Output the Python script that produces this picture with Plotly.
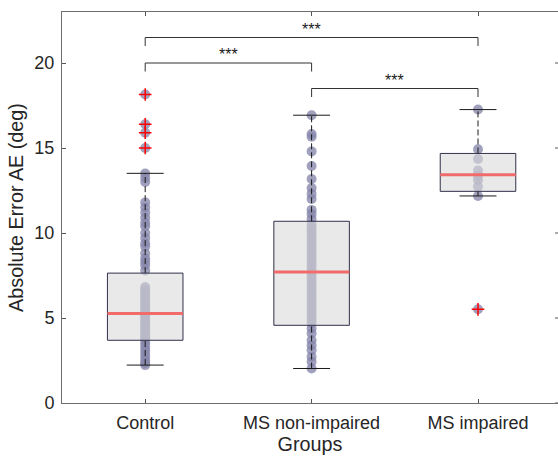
import plotly.graph_objects as go

# ---------------- data ----------------
groups = ["Control", "MS non-impaired", "MS impaired"]
group_pos = [1, 2, 3]

control_vals = [13.5, 13.25, 13.0, 11.8, 11.5, 11.2, 10.9, 10.6, 10.4, 10.0, 9.7, 9.4,
                9.2, 8.8, 8.5, 8.3, 8.1, 7.8,
                6.82, 6.7, 6.55, 6.4, 6.3, 6.15, 6.0, 5.9, 5.75, 5.6, 5.5, 5.35, 5.25,
                5.2, 5.1, 4.95, 4.8, 4.7, 4.55, 4.4, 4.3, 4.15, 4.0, 3.9, 3.8, 3.7,
                3.5, 3.3, 3.1, 2.9, 2.7, 2.5, 2.35, 2.23]
control_outliers = [18.15, 16.4, 15.9, 15.0]

msni_vals = [16.93, 15.82, 15.66, 14.8, 13.94, 13.18, 12.65, 12.3, 12.0, 11.36, 11.12,
             10.83, 10.5, 10.3, 10.1, 9.9, 9.7, 9.5, 9.3, 9.1, 8.9, 8.7, 8.5, 8.3, 8.1,
             7.9, 7.7, 7.5, 7.3, 7.1, 6.9, 6.7, 6.5, 6.3, 6.1, 5.9, 5.7, 5.5, 5.3, 5.1,
             4.9, 4.7, 4.38, 4.09, 3.69, 3.4, 3.11, 2.72, 2.42, 2.03]
msni_outliers = []

msi_vals = [17.26, 14.93, 14.35, 13.67, 13.37, 13.12, 12.73, 12.18]
msi_outliers = [5.51]

# box statistics per group
q1 = [3.69, 4.57, 12.45]
median = [5.26, 7.70, 13.43]
q3 = [7.64, 10.69, 14.68]
whisk_lo = [2.23, 2.03, 12.18]
whisk_hi = [13.51, 16.93, 17.26]

# significance brackets: (from group, to group, height, label)
bracket_from = [1, 1, 2]
bracket_to = [3, 2, 3]
bracket_y = [21.5, 20.0, 18.5]
bracket_label = ["***", "***", "***"]

y_ticks = [0, 5, 10, 15, 20]

# ---------------- figure ----------------
FONT = "Liberation Sans, Arial, Helvetica, sans-serif"
TXT = "#262626"
half_box = 0.227
half_cap = 0.111
tick_drop = 0.5
x_max = 0.5 + 495.7 / 166.3

fig = go.Figure()

all_vals = [control_vals + control_outliers, msni_vals + msni_outliers, msi_vals + msi_outliers]
all_out = [control_outliers, msni_outliers, msi_outliers]

# points (drawn first, then covered by the translucent box patch)
for i, p in enumerate(group_pos):
    fig.add_trace(go.Scatter(
        x=[p] * len(all_vals[i]), y=all_vals[i], mode="markers",
        marker=dict(size=10, color="rgb(134,134,172)", opacity=0.78, line=dict(width=0)),
        showlegend=False))

# box fills (translucent)
for i, p in enumerate(group_pos):
    fig.add_trace(go.Scatter(
        x=[p - half_box, p + half_box, p + half_box, p - half_box, p - half_box],
        y=[q1[i], q1[i], q3[i], q3[i], q1[i]],
        mode="lines", fill="toself", fillcolor="rgba(218,218,218,0.6)",
        line=dict(color="rgba(0,0,0,0)", width=0), hoverinfo="skip", showlegend=False))

# whiskers, caps, box edges, medians
for i, p in enumerate(group_pos):
    for a, b in [(q3[i], whisk_hi[i]), (whisk_lo[i], q1[i])]:
        fig.add_trace(go.Scatter(x=[p, p], y=[a, b], mode="lines",
                                 line=dict(color="#1a1a1a", width=1, dash="6px,3px"),
                                 hoverinfo="skip", showlegend=False))
    for c in [whisk_lo[i], whisk_hi[i]]:
        fig.add_trace(go.Scatter(x=[p - half_cap, p + half_cap], y=[c, c], mode="lines",
                                 line=dict(color="#1a1a1a", width=1),
                                 hoverinfo="skip", showlegend=False))
    fig.add_trace(go.Scatter(
        x=[p - half_box, p + half_box, p + half_box, p - half_box, p - half_box],
        y=[q1[i], q1[i], q3[i], q3[i], q1[i]], mode="lines",
        line=dict(color="#30304a", width=1), hoverinfo="skip", showlegend=False))
    fig.add_trace(go.Scatter(x=[p - half_box, p + half_box], y=[median[i], median[i]],
                             mode="lines", line=dict(color="#f26b6b", width=3),
                             hoverinfo="skip", showlegend=False))

# outlier crosses
for i, p in enumerate(group_pos):
    if all_out[i]:
        fig.add_trace(go.Scatter(
            x=[p] * len(all_out[i]), y=all_out[i], mode="markers",
            marker=dict(symbol="cross-thin", size=9, line=dict(color="#ff0000", width=1.5)),
            showlegend=False))

# significance brackets
for f, t, h, lab in zip(bracket_from, bracket_to, bracket_y, bracket_label):
    fig.add_trace(go.Scatter(x=[f, f, t, t], y=[h - tick_drop, h, h, h - tick_drop],
                             mode="lines", line=dict(color="#333333", width=1),
                             hoverinfo="skip", showlegend=False))
    fig.add_annotation(x=(f + t) / 2, y=h, text=lab, showarrow=False,
                       yanchor="bottom", yshift=-2,
                       font=dict(family=FONT, size=16, color="#1a1a1a"))

# right-side inward ticks (the right axis border itself lies just outside the view)
rx, ry = [], []
for yt in y_ticks:
    rx += [x_max - 3 / 166.3, x_max, None]
    ry += [yt, yt, None]
fig.add_trace(go.Scatter(x=rx, y=ry, mode="lines", line=dict(color="#555555", width=1),
                         hoverinfo="skip", showlegend=False))

fig.update_layout(
    width=558, height=459,
    margin=dict(l=62.3, r=0, t=12, b=56.3),
    plot_bgcolor="white", paper_bgcolor="white",
    font=dict(family=FONT, size=18, color=TXT),
    showlegend=False,
    xaxis=dict(range=[0.5, x_max], tickmode="array", tickvals=group_pos,
               ticktext=groups, ticks="inside", ticklen=4, tickcolor="#555555",
               showline=True, linecolor="#6e6e6e", linewidth=1, mirror="ticks",
               showgrid=False, zeroline=False, ticklabelstandoff=3,
               title=dict(text="Groups", font=dict(size=19.8, color=TXT), standoff=5)),
    yaxis=dict(range=[0, 23], tickmode="array", tickvals=y_ticks,
               ticks="inside", ticklen=4, tickcolor="#555555",
               showline=True, linecolor="#6e6e6e", linewidth=1,
               showgrid=False, zeroline=False, ticklabelstandoff=3,
               title=dict(text="Absolute Error AE (deg)", font=dict(size=19.8, color=TXT),
                          standoff=5)),
)

fig.write_html("out.html", config={"displayModeBar": False},
               post_script="document.body.style.margin='0';"
                           "document.body.style.overflow='hidden';")
